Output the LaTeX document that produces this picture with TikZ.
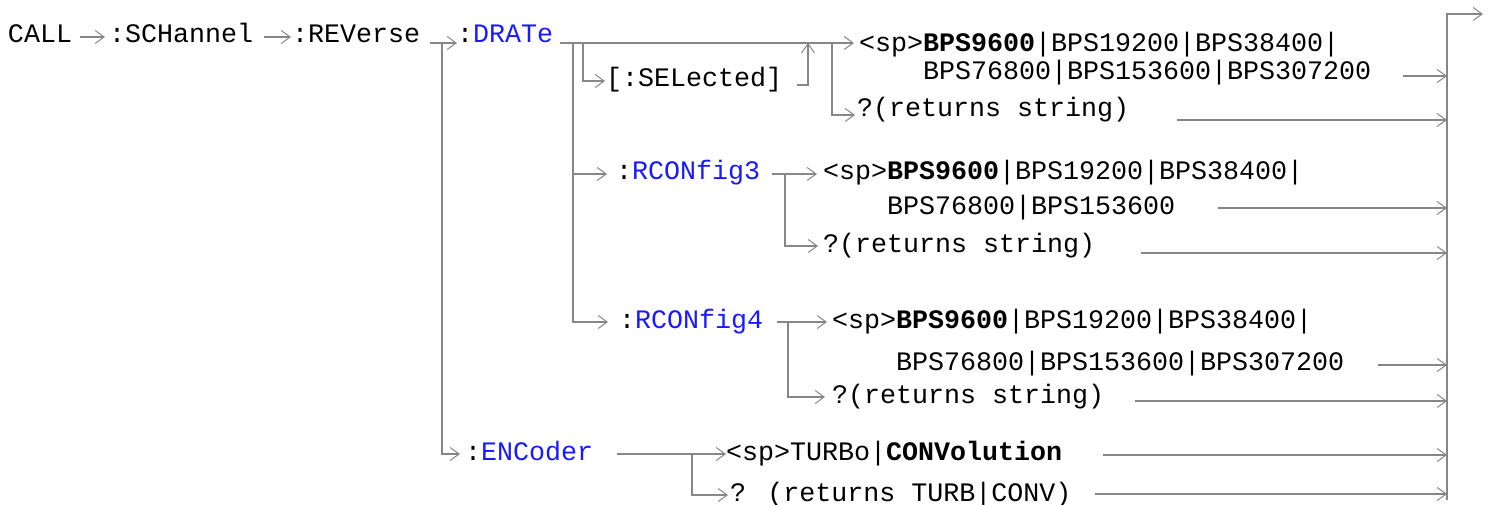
\documentclass[tikz,border=0pt]{standalone}
\usepackage{fontspec}
\usepackage{xcolor}
\usepackage{tikz}
\usetikzlibrary{arrows.meta,positioning}
\newfontfamily\cmdfont{Liberation Mono}
\definecolor{linegray}{RGB}{135,135,135}
\definecolor{cmdblue}{RGB}{25,25,255}
\newcommand{\kw}[1]{\textcolor{cmdblue}{#1}}

\begin{document}
\begin{tikzpicture}[
  x=1pt, y=-1pt,
  txt/.style={anchor=base west, inner sep=0pt, outer sep=0pt, text height=18pt, text depth=6pt, font=\cmdfont\fontsize{26.67pt}{32pt}\selectfont},
  line/.style={draw=linegray, line width=1.8pt},
  arr/.style={line, -{Straight Barb[length=9pt, width=13pt, line width=1pt]}}
]
\useasboundingbox (0,0) rectangle (1497,505);
% command path
\node[txt] (call) at (8,43) {CALL};
\node[txt] (sch) at (109,43) {:SCHannel};
\node[txt] (rev) at (292,43) {:REVerse};
\node[txt] (drate) at (457,43) {:\kw{DRATe}};
\node[txt] (sel) at (606,87) {[:SELected]};
\node[txt] (dsp1) at (859,52) {<sp>\textbf{BPS9600}|BPS19200|BPS38400|};
\node[txt] (dsp2) at (923,80) {BPS76800|BPS153600|BPS307200};
\node[txt] (dq) at (857,117) {?(returns string)};
\node[txt] (rc3) at (616,180) {:\kw{RCONfig3}};
\node[txt] (r3sp1) at (823,180) {<sp>\textbf{BPS9600}|BPS19200|BPS38400|};
\node[txt] (r3sp2) at (887,215) {BPS76800|BPS153600};
\node[txt] (r3q) at (823,252) {?(returns string)};
\node[txt] (rc4) at (619,328) {:\kw{RCONfig4}};
\node[txt] (r4sp1) at (832,328) {<sp>\textbf{BPS9600}|BPS19200|BPS38400|};
\node[txt] (r4sp2) at (896,370) {BPS76800|BPS153600|BPS307200};
\node[txt] (r4q) at (832,403) {?(returns string)};
\node[txt] (enc) at (465,460) {:\kw{ENCoder}};
\node[txt] (esp) at (726,460) {<sp>TURBo|\textbf{CONVolution}};
\node[txt] (eq) at (730,501) {? (returns TURB|CONV)};
% junctions
\coordinate (jr) at ([xshift=22pt]rev.base east);
\coordinate (jd) at ([xshift=20pt]drate.base east);
\coordinate (js) at ([xshift=30pt]drate.base east);
\coordinate (jm) at ([xshift=255pt]drate.base east);
\coordinate (jq) at ([xshift=279pt]drate.base east);
\coordinate (j3) at ([xshift=25pt]rc3.east);
\coordinate (j4) at ([xshift=25pt]rc4.east);
\coordinate (je) at ([xshift=99pt]enc.east);
\coordinate (rbar) at (1447,14);
\coordinate (rbot) at (1447,500);
\coordinate (rout) at (1483,14);
% connectors
\draw[arr, shorten <=8pt, shorten >=4pt] (call) -- (sch);
\draw[arr, shorten <=11pt, shorten >=1pt] (sch) -- (rev);
\draw[arr] ([xshift=10pt]rev.base east) -- (drate.base west);
\draw[arr, shorten >=5pt] (jr) |- (enc);
\draw[arr, shorten >=5pt] ([xshift=7pt]drate.base east) -- (drate.base east -| dsp1.west);
\draw[arr, shorten >=9pt] (jd) |- (rc3);
\draw[arr, shorten >=11pt] (jd) |- (rc4);
\draw[arr, shorten >=1pt] (js) |- (sel);
\draw[arr] ([shift={(15,4)}]sel.east) -| (jm);
\draw[arr, shorten >=2pt] (jq) |- ([shift={(0,4)}]dq.west);
\draw[arr, shorten <=12pt, shorten >=6pt] (rc3) -- (r3sp1);
\draw[arr, shorten >=5pt] (j3) |- (r3q);
\draw[arr, shorten <=14pt, shorten >=5pt] (rc4) -- (r4sp1);
\draw[arr, shorten >=7pt] (j4) |- (r4q);
\draw[arr, shorten <=24pt] (enc) -- (esp);
\draw[arr, shorten >=2pt] (je) |- (eq);
% return bar
\draw[arr] (rbot) |- (rout);
\foreach \n/\g/\dy in {dsp2/32/-4, dq/48/3, r3sp2/43/-7, r3q/46/1, r4sp2/34/-5, r4q/31/-2, esp/41/-5, eq/24/-7}
  \draw[arr] ([shift={(\g,\dy)}]\n.base east) coordinate (s) -- (s -| rbar);
\end{tikzpicture}
\end{document}
